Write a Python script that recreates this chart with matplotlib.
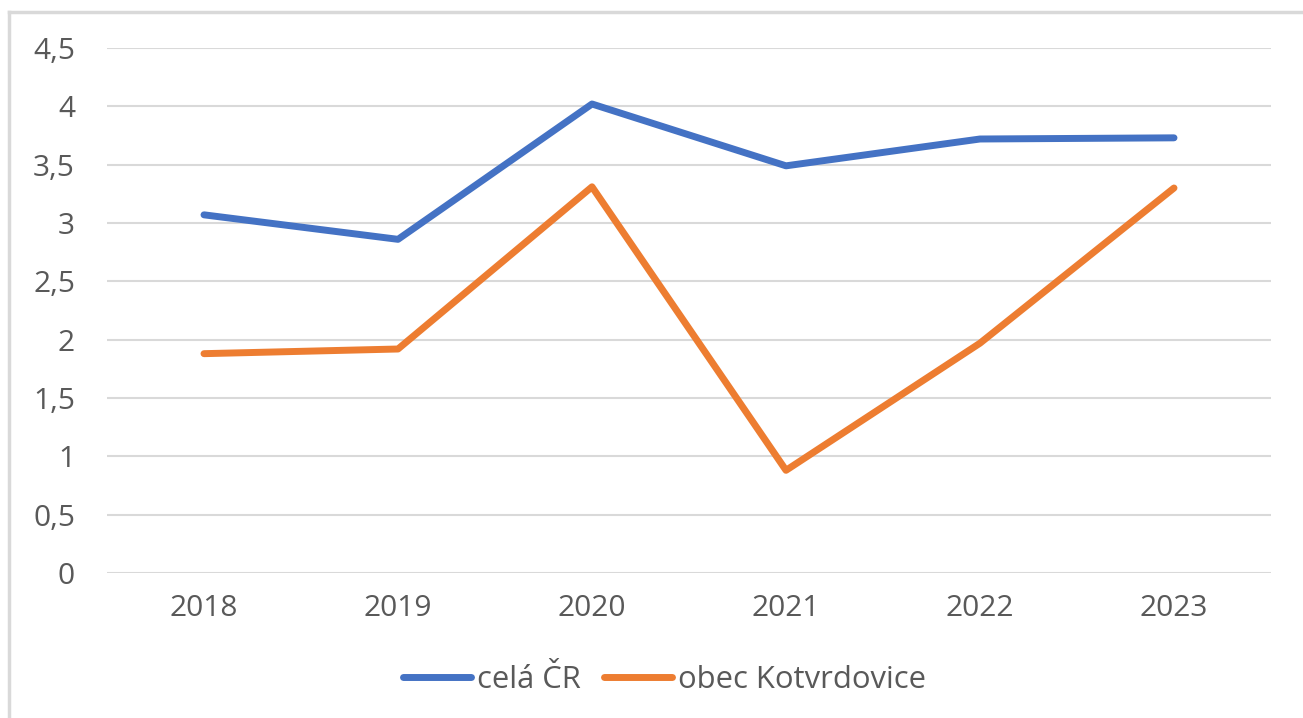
import matplotlib.pyplot as plt
import matplotlib.lines as mlines

# data
years = ['2018', '2019', '2020', '2021', '2022', '2023']
cela_cr = [3.07, 2.86, 4.02, 3.49, 3.72, 3.73]
kotvrdovice = [1.88, 1.92, 3.31, 0.88, 1.97, 3.30]
y_ticks = [0, 0.5, 1, 1.5, 2, 2.5, 3, 3.5, 4, 4.5]
y_labels = ['0', '0,5', '1', '1,5', '2', '2,5', '3', '3,5', '4', '4,5']

plt.rcParams['font.family'] = ['Open Sans', 'DejaVu Sans']
text_col = '#595959'
grid_col = '#d9d9d9'
blue = '#4472C4'
orange = '#ED7D31'

W, H = 1303, 718
fig = plt.figure(figsize=(W / 100, H / 100), dpi=100)

# light frame around the chart (only top and left edges show)
fig.add_artist(mlines.Line2D([9 / W, 9 / W], [0, 1 - 12 / H], color=grid_col, linewidth=2.5))
fig.add_artist(mlines.Line2D([9 / W, 1], [1 - 12 / H, 1 - 12 / H], color=grid_col, linewidth=2.5))

ax = fig.add_axes([107 / W, 1 - 573 / H, (1271 - 107) / W, (573 - 48) / H])
x = range(len(years))
ax.plot(x, cela_cr, color=blue, linewidth=5, solid_capstyle='round', solid_joinstyle='round', label='celá ČR')
ax.plot(x, kotvrdovice, color=orange, linewidth=5, solid_capstyle='round', solid_joinstyle='round', label='obec Kotvrdovice')

ax.set_xlim(-0.5, len(years) - 0.5)
ax.set_ylim(0, 4.5)
ax.set_yticks(y_ticks)
ax.set_yticklabels(y_labels)
ax.set_xticks(list(x))
ax.set_xticklabels(years)
ax.tick_params(axis='both', length=0, labelsize=21.5, labelcolor=text_col)
ax.tick_params(axis='y', pad=23)
ax.tick_params(axis='x', pad=15)
ax.grid(axis='y', color=grid_col, linewidth=1.5)
ax.set_axisbelow(True)
for s in ax.spines.values():
    s.set_visible(False)

leg = ax.legend(loc='center', bbox_to_anchor=(0.479, -0.204), ncol=2, frameon=False,
                fontsize=22.3, handlelength=2.2, handletextpad=0.2, columnspacing=0.75)
for t in leg.get_texts():
    t.set_color(text_col)

fig.savefig('out.png', dpi=100)
